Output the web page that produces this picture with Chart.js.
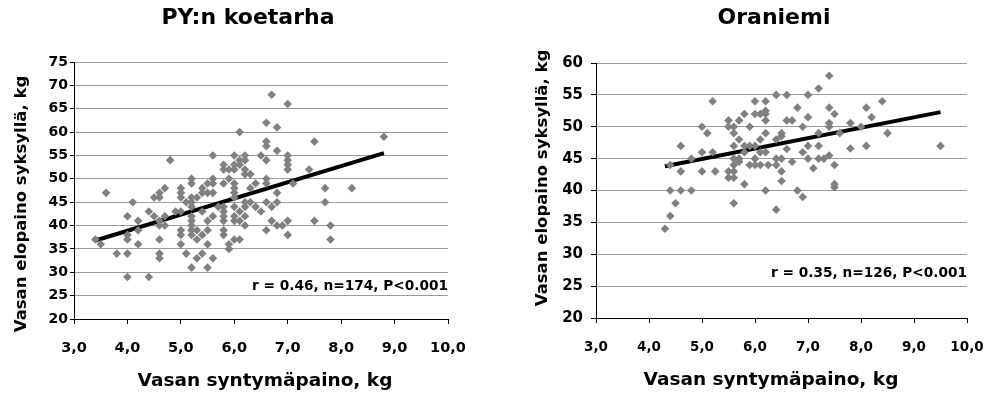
<!DOCTYPE html>
<html>
<head>
<meta charset="utf-8">
<script src="https://cdn.jsdelivr.net/npm/chart.js@4/dist/chart.umd.min.js"></script>
<style>
    body { margin: 0; background: #fff; }
    #wrap { position: relative; width: 992px; height: 396px; }
    canvas { position: absolute; top: 0; }
</style>
</head>
<body>
<div id="wrap">
    <canvas id="koetarha" width="496" height="396" style="left:0"></canvas>
    <canvas id="oraniemi" width="496" height="396" style="left:496px"></canvas>
</div>
<script>
// PY:n koetarha - birth weight (kg) vs autumn weight (kg)
const koeBirth = [
    3.4, 3.5, 3.6, 3.8,
    4.0, 4.0, 4.0, 4.0, 4.0,
    4.1, 4.2, 4.2, 4.2,
    4.4, 4.4, 4.5, 4.5,
    4.6, 4.6, 4.6, 4.6, 4.6, 4.6, 4.6,
    4.7, 4.7, 4.7, 4.8, 4.9,
    5.0, 5.0, 5.0, 5.0, 5.0, 5.0, 5.0,
    5.1, 5.1,
    5.2, 5.2, 5.2, 5.2, 5.2, 5.2, 5.2, 5.2, 5.2, 5.2, 5.2,
    5.3, 5.3, 5.3, 5.3,
    5.4, 5.4, 5.4, 5.4, 5.4,
    5.5, 5.5, 5.5, 5.5, 5.5, 5.5,
    5.6, 5.6, 5.6, 5.6, 5.6, 5.6,
    5.7,
    5.8, 5.8, 5.8, 5.8, 5.8, 5.8, 5.8, 5.8, 5.8,
    5.9, 5.9, 5.9, 5.9,
    6.0, 6.0, 6.0, 6.0, 6.0, 6.0, 6.0, 6.0, 6.0, 6.0, 6.0,
    6.1, 6.1, 6.1, 6.1, 6.1, 6.1,
    6.2, 6.2, 6.2, 6.2, 6.2, 6.2, 6.2, 6.2,
    6.3, 6.3, 6.3,
    6.4, 6.4, 6.5, 6.5,
    6.6, 6.6, 6.6, 6.6, 6.6, 6.6, 6.6, 6.6,
    6.7, 6.7, 6.7,
    6.8, 6.8, 6.8, 6.8, 6.8,
    6.9,
    7.0, 7.0, 7.0, 7.0, 7.0, 7.0, 7.0,
    7.1, 7.4, 7.5, 7.5, 7.7, 7.7, 7.8, 7.8, 8.2, 8.8
];
const koeAutumn = [
    37, 36, 47, 34,
    42, 38, 37, 34, 29,
    45, 41, 39, 36,
    43, 29, 46, 42,
    47, 46, 41, 40, 37, 34, 33,
    48, 42, 40, 54, 43,
    48, 47, 46, 43, 39, 38, 36,
    45, 34,
    50, 49, 46, 45, 44, 42, 41, 40, 39, 38, 31,
    46, 39, 37, 33,
    48, 47, 43, 38, 34,
    49, 47, 41, 39, 36, 31,
    55, 50, 49, 47, 42, 33,
    44,
    53, 52, 49, 44, 43, 42, 41, 39, 38,
    52, 50, 36, 35,
    55, 53, 52, 49, 48, 47, 46, 44, 42, 41, 37,
    60, 54, 53, 43, 41, 37,
    55, 54, 52, 51, 45, 44, 42, 40,
    51, 48, 45,
    49, 44, 55, 43,
    62, 58, 57, 54, 50, 49, 45, 39,
    68, 44, 41,
    61, 56, 47, 45, 40,
    40,
    66, 55, 54, 53, 52, 41, 38,
    49, 52, 58, 41, 48, 45, 40, 37, 48, 59
];
const koeTrendX = [3.4, 8.8];
const koeTrendY = [36.8, 55.5];

// Oraniemi
const oraBirth = [
    4.3, 4.4, 4.4, 4.4, 4.5,
    4.6, 4.6, 4.6, 4.8, 4.8,
    5.0, 5.0, 5.0, 5.1, 5.2, 5.2, 5.25,
    5.5, 5.5, 5.5, 5.5,
    5.6, 5.6, 5.6, 5.6, 5.6, 5.6, 5.6, 5.6,
    5.7, 5.7, 5.7, 5.7,
    5.8, 5.8, 5.8, 5.8,
    5.9, 5.9, 5.9,
    6.0, 6.0, 6.0, 6.0, 6.0,
    6.1, 6.1, 6.1, 6.1,
    6.2, 6.2, 6.2, 6.2, 6.2, 6.2, 6.2, 6.25,
    6.4, 6.4, 6.4, 6.4, 6.4,
    6.5, 6.5, 6.5, 6.5, 6.5,
    6.6, 6.6, 6.6, 6.7, 6.7, 6.8, 6.8,
    6.9, 6.9, 6.9,
    7.0, 7.0, 7.0, 7.0, 7.1,
    7.2, 7.2, 7.2, 7.2, 7.3,
    7.4, 7.4, 7.4, 7.4, 7.4,
    7.5, 7.5, 7.5, 7.5, 7.6,
    7.8, 7.8, 8.0, 8.1, 8.1, 8.2, 8.4, 8.5, 9.5
];
const oraAutumn = [
    34, 44, 40, 36, 38,
    47, 43, 40, 45, 40,
    50, 46, 43, 49, 54, 46, 43,
    51, 50, 43, 42,
    50, 49, 47, 45, 44, 43, 42, 38,
    51, 48, 45, 44.5,
    52, 47, 46, 41,
    50, 47, 44,
    54, 52, 47, 45, 44,
    52, 48, 46, 44,
    54, 52.5, 52, 51, 49, 46, 40, 44,
    55, 48, 45, 44, 37,
    49, 48.5, 45, 43, 41.5,
    55, 51, 46.5, 51, 44.5, 53, 40,
    50, 46, 39,
    55, 51.5, 47, 45, 43.5,
    56, 49, 47, 45, 45,
    58, 53, 50.6, 50, 45.5,
    52, 44, 41, 40.5, 49,
    50.6, 46.6, 50, 53, 47, 51.5, 54, 49, 47
];
const oraTrendX = [4.3, 9.5];
const oraTrendY = [43.8, 52.3];

const xTicks = [3, 10];
const xTitle = 'Vasan syntymäpaino, kg';
const yTitle = 'Vasan elopaino syksyllä, kg';

Chart.defaults.font.family = '"DejaVu Sans", sans-serif';
Chart.defaults.font.weight = 'bold';
Chart.defaults.color = '#000';

function zip(xs, ys) {
    return xs.map((x, i) => ({ x: x, y: ys[i] }));
}

// titles, axis titles and the r / n / P note
const textLayer = {
    id: 'textLayer',
    afterDraw(chart, args, o) {
        const ctx = chart.ctx;
        const area = chart.chartArea;
        ctx.save();
        ctx.fillStyle = '#000';
        ctx.textBaseline = 'middle';
        ctx.textAlign = 'center';
        ctx.font = 'bold 22px "DejaVu Sans"';
        ctx.fillText(o.title, o.titleX, 18);
        ctx.font = 'bold 18.5px "DejaVu Sans"';
        ctx.fillText(xTitle, o.xTitleX, o.xTitleY);
        ctx.save();
        ctx.translate(o.yTitleX, o.yTitleY);
        ctx.rotate(-Math.PI / 2);
        ctx.font = 'bold 16.5px "DejaVu Sans"';
        ctx.fillText(yTitle, 0, 0);
        ctx.restore();
        ctx.textAlign = 'right';
        ctx.font = 'bold 13.7px "DejaVu Sans"';
        ctx.fillText(o.note, area.right, area.bottom - o.noteUp);
        ctx.restore();
    }
};

function makeChart(id, birth, autumn, trendX, trendY, s) {
    return new Chart(document.getElementById(id), {
        type: 'scatter',
        data: {
            datasets: [{
                data: zip(birth, autumn),
                pointStyle: 'rectRot',
                pointRadius: 4.3,
                pointBorderWidth: 0,
                backgroundColor: '#808080',
                borderColor: '#808080'
            }, {
                type: 'line',
                data: zip(trendX, trendY),
                borderColor: '#000',
                borderWidth: 4,
                pointRadius: 0,
                fill: false
            }]
        },
        options: {
            responsive: false,
            animation: false,
            events: [],
            layout: { padding: { left: 0, top: s.top, right: s.right, bottom: 0 } },
            plugins: {
                legend: { display: false },
                tooltip: { enabled: false },
                textLayer: s.text
            },
            scales: {
                x: {
                    type: 'linear',
                    min: xTicks[0],
                    max: xTicks[1],
                    afterFit: function(scale) {
                        scale.height = s.xHeight;
                        // layout padding already leaves room for the end labels
                        scale.paddingLeft = 0;
                        scale.paddingRight = 0;
                    },
                    grid: { drawOnChartArea: false, drawTicks: true, tickLength: 5, tickColor: '#000' },
                    border: { color: '#000', width: 1 },
                    ticks: {
                        stepSize: 1,
                        padding: 16,
                        font: { size: s.xTickSize, weight: 'bold' },
                        callback: v => v.toFixed(1).replace('.', ',')
                    }
                },
                y: {
                    min: s.yMin,
                    max: s.yMax,
                    afterFit: function(scale) { scale.width = s.yWidth; },
                    grid: { color: '#9a9a9a', lineWidth: 1, tickLength: s.yTickLen, tickColor: '#000' },
                    border: { color: '#000', width: 1 },
                    ticks: {
                        stepSize: 5,
                        padding: s.yPad,
                        font: { size: s.yTickSize, weight: 'bold' }
                    }
                }
            }
        },
        plugins: [textLayer]
    });
}

makeChart('koetarha', koeBirth, koeAutumn, koeTrendX, koeTrendY, {
    top: 62, right: 48, xHeight: 77, yWidth: 74,
    yMin: 20, yMax: 75, yTickLen: 4, yPad: 2,
    xTickSize: 14.5, yTickSize: 14,
    text: {
        title: 'PY:n koetarha', titleX: 248,
        xTitleX: 265, xTitleY: 381,
        yTitleX: 22, yTitleY: 204,
        note: 'r = 0.46, n=174, P<0.001', noteUp: 33
    }
});

makeChart('oraniemi', oraBirth, oraAutumn, oraTrendX, oraTrendY, {
    top: 63, right: 25, xHeight: 78, yWidth: 100,
    yMin: 20, yMax: 60, yTickLen: 5, yPad: 8,
    xTickSize: 13.5, yTickSize: 15,
    text: {
        title: 'Oraniemi', titleX: 278,
        xTitleX: 275, xTitleY: 380,
        yTitleX: 47, yTitleY: 178,
        note: 'r = 0.35, n=126, P<0.001', noteUp: 45
    }
});
</script>
</body>
</html>
